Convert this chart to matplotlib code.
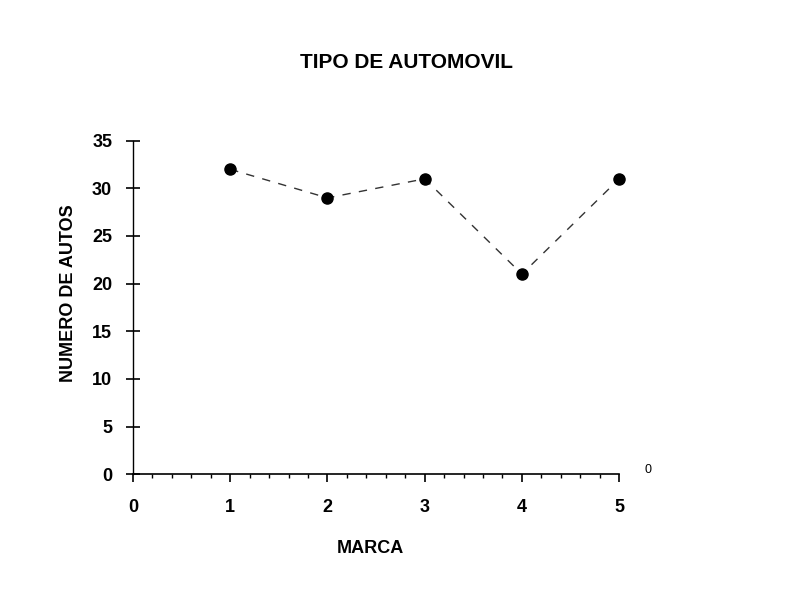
import matplotlib.pyplot as plt
from matplotlib.ticker import MultipleLocator

marca = [1, 2, 3, 4, 5]
autos = [32, 29, 31, 21, 31]
y_ticks = [0, 5, 10, 15, 20, 25, 30, 35]
x_ticks = [0, 1, 2, 3, 4, 5]

plt.rcParams['font.family'] = ['Liberation Sans', 'DejaVu Sans']

fig = plt.figure(figsize=(8.01, 6.04), dpi=100)
ax = fig.add_axes([0.166, 0.215, 0.607, 0.552])

ax.plot(marca, autos, linestyle=(0, (6, 6)), color='#333333', linewidth=1.0,
        marker='o', markersize=8, markerfacecolor='black', markeredgecolor='black',
        clip_on=False)

ax.set_xlim(0, 5)
ax.set_ylim(0, 35)
ax.set_xticks(x_ticks)
ax.set_yticks(y_ticks)
ax.xaxis.set_minor_locator(MultipleLocator(0.2))

for s in ['top', 'right']:
    ax.spines[s].set_visible(False)
ax.spines['left'].set_linewidth(1.0)
ax.spines['bottom'].set_linewidth(1.2)

ax.tick_params(axis='y', direction='inout', length=10, width=1.2, labelsize=13, pad=10)
ax.tick_params(axis='x', which='major', direction='out', length=6, width=1.2,
               labelsize=13, pad=12)
ax.tick_params(axis='x', which='minor', direction='out', length=3, width=1.0)
for lab in ax.get_xticklabels() + ax.get_yticklabels():
    lab.set_fontweight('bold')

fig.text(0.507, 0.897, 'TIPO DE AUTOMOVIL', ha='center', va='center',
         fontsize=15, fontweight='bold')
fig.text(0.085, 0.515, 'NUMERO DE AUTOS', rotation=90, ha='center', va='center',
         fontsize=13, fontweight='bold')
fig.text(0.462, 0.092, 'MARCA', ha='center', va='center',
         fontsize=13, fontweight='bold')
fig.text(0.809, 0.222, '0', ha='center', va='center', fontsize=9)

fig.savefig('out.png', dpi=100)
